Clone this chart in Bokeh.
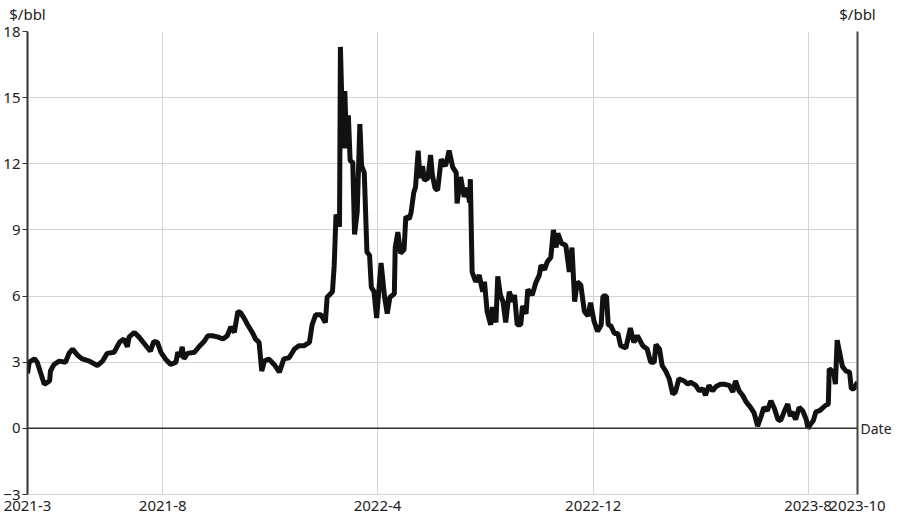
import pandas as pd
from bokeh.plotting import figure
from bokeh.models import (Range1d, FixedTicker, CustomJSTickFormatter, LinearAxis,
                          Span, ColumnDataSource)
from bokeh.embed import file_html
from bokeh.resources import INLINE

# ---- data ----
start_date = "2021-03-01"
end_day_offset = 939
day_offset = [
    0, 2, 8, 11, 15, 19, 25, 26, 30, 36, 43, 47, 51, 57, 62, 70, 79, 85, 90, 98,
    104, 109, 113, 115, 121, 126, 132, 139, 143, 147, 151, 156, 162, 168, 170, 173, 175, 177, 181, 189,
    194, 200, 204, 209, 215, 221, 226, 230, 234, 238, 241, 245, 249, 255, 258, 262, 265, 268, 273, 279,
    285, 290, 296, 302, 307, 313, 319, 322, 326, 332, 337, 339, 345, 347, 349, 353, 354, 357, 359, 361,
    363, 365, 368, 370, 373, 376, 378, 381, 384, 387, 389, 392, 395, 398, 400, 404, 407, 410, 415, 416,
    419, 422, 426, 428, 432, 434, 437, 439, 442, 444, 447, 449, 453, 456, 458, 461, 464, 468, 473, 477,
    481, 485, 486, 490, 494, 498, 500, 501, 503, 507, 511, 515, 517, 520, 524, 526, 530, 532, 535, 538,
    541, 545, 549, 551, 554, 558, 560, 564, 566, 571, 575, 579, 581, 585, 588, 592, 595, 598, 600, 604,
    609, 613, 616, 619, 622, 626, 630, 634, 637, 641, 645, 649, 651, 655, 657, 660, 664, 668, 671, 677,
    682, 686, 690, 696, 701, 705, 709, 711, 715, 718, 722, 726, 730, 733, 737, 743, 747, 750, 756, 760,
    764, 767, 771, 775, 779, 784, 788, 794, 798, 801, 805, 809, 813, 818, 822, 826, 830, 833, 837, 841,
    845, 849, 852, 856, 860, 863, 865, 869, 873, 877, 881, 883, 886, 889, 892, 896, 899, 903, 906, 907,
    912, 914, 916, 919, 922, 926, 930, 932, 935, 939,
]
price = [
    2.5, 3.0, 3.15, 3.0, 2.5, 2.0, 2.15, 2.6, 2.9, 3.05, 3.0, 3.4, 3.6, 3.3, 3.15, 3.05, 2.85, 3.05, 3.4, 3.45,
    3.9, 4.05, 3.7, 4.15, 4.35, 4.15, 3.85, 3.5, 3.95, 3.9, 3.45, 3.15, 2.9, 3.0, 3.45, 3.25, 3.7, 3.15, 3.4, 3.45,
    3.7, 3.95, 4.2, 4.2, 4.15, 4.05, 4.2, 4.6, 4.35, 5.3, 5.25, 5.0, 4.7, 4.3, 4.05, 3.9, 2.6, 3.05, 3.15, 2.9,
    2.55, 3.15, 3.2, 3.6, 3.75, 3.75, 3.9, 4.7, 5.15, 5.15, 4.8, 5.95, 6.2, 7.4, 9.7, 9.15, 17.3, 12.7, 15.3, 12.7,
    14.2, 12.15, 12.05, 8.8, 9.8, 13.8, 11.9, 11.6, 8.0, 7.85, 6.4, 6.2, 5.0, 6.5, 7.5, 5.95, 5.2, 5.95, 6.1, 8.2,
    8.9, 7.95, 8.1, 9.6, 9.5, 9.8, 10.7, 10.95, 12.6, 11.35, 11.9, 11.25, 11.35, 12.4, 11.5, 10.9, 10.8, 12.2, 11.9, 12.6,
    11.85, 11.6, 10.2, 11.4, 10.5, 10.9, 10.25, 11.3, 7.1, 6.65, 6.95, 6.2, 6.65, 5.3, 4.7, 5.5, 4.8, 6.9, 6.05, 5.75,
    4.8, 6.2, 5.75, 6.05, 4.7, 4.7, 5.55, 5.2, 6.3, 6.05, 6.6, 6.95, 7.4, 7.2, 7.55, 7.75, 9.0, 8.2, 8.85, 8.4,
    8.3, 7.1, 8.2, 5.75, 6.65, 6.5, 5.3, 5.1, 5.7, 4.85, 4.4, 4.7, 6.0, 6.0, 4.7, 4.65, 4.3, 4.3, 3.75, 3.65,
    4.55, 3.9, 4.2, 3.75, 3.6, 3.0, 3.0, 3.8, 3.6, 2.85, 2.6, 2.25, 1.55, 1.65, 2.25, 2.15, 2.0, 2.1, 1.95, 1.7,
    1.8, 1.5, 1.95, 1.7, 1.9, 2.0, 2.0, 1.95, 1.65, 2.15, 1.7, 1.5, 1.2, 0.95, 0.7, 0.1, 0.55, 0.95, 0.8, 1.25,
    0.9, 0.4, 0.35, 0.75, 1.1, 0.55, 0.75, 0.4, 0.95, 0.8, 0.4, 0.0, 0.2, 0.35, 0.75, 0.8, 0.9, 1.05, 1.1, 2.7,
    2.55, 2.0, 4.0, 3.4, 2.8, 2.6, 2.55, 1.8, 1.8, 2.1,
]
y_ticks = [-3, 0, 3, 6, 9, 12, 15, 18]
x_tick_dates = ["2021-03-01", "2021-08-01", "2022-04-01", "2022-12-01", "2023-08-01"]
x_tick_labels = ["2021-3", "2021-8", "2022-4", "2022-12", "2023-8", "2023-10"]
y_unit = "$/bbl"
x_name = "Date"

# ---- build ----
t0 = pd.Timestamp(start_date)
dates = [t0 + pd.Timedelta(days=d) for d in day_offset]
t_end = t0 + pd.Timedelta(days=end_day_offset)

def ms(ts):
    return float(ts.value // 10**6)

start_ms = ms(t0)
end_ms = ms(t_end)
tick_ms = [ms(pd.Timestamp(d)) for d in x_tick_dates] + [end_ms]

src = ColumnDataSource(data=dict(x=dates, y=price))

FONT = "Noto Sans"
TXT = "#222222"
FS = "15px"

p = figure(width=894, height=513, x_axis_type="datetime",
           output_backend="svg", toolbar_location=None,
           x_range=Range1d(start_ms, end_ms), y_range=Range1d(-3, 18),
           min_border_left=22, min_border_right=0, min_border_top=0, min_border_bottom=0)
p.outline_line_color = None
p.background_fill_color = "white"

xt = FixedTicker(ticks=tick_ms)
yt = FixedTicker(ticks=y_ticks)

p.xaxis.ticker = xt
p.xgrid.ticker = xt
p.yaxis.ticker = yt
p.ygrid.ticker = yt

p.xaxis.formatter = CustomJSTickFormatter(args=dict(tpos=tick_ms, tlab=x_tick_labels), code="""
let best = 0, bd = Infinity;
for (let i = 0; i < tpos.length; i++) {
  const d = Math.abs(tpos[i] - tick);
  if (d < bd) { bd = d; best = i; }
}
return tlab[best];
""")

for g in (p.xgrid[0], p.ygrid[0]):
    g.grid_line_color = "#d4d4d4"
    g.grid_line_width = 1

xa = p.xaxis[0]
xa.axis_line_color = "#d4d4d4"
xa.major_tick_line_color = None
xa.minor_tick_line_color = None
xa.major_tick_out = 0
xa.major_tick_in = 0
xa.major_label_standoff = 6
xa.major_label_text_font = FONT
xa.major_label_text_font_size = FS
xa.major_label_text_color = TXT

ya = p.yaxis[0]
ya.axis_line_color = "#333333"
ya.axis_line_width = 2
ya.major_tick_line_color = "#333333"
ya.major_tick_out = 5
ya.major_tick_in = 0
ya.minor_tick_line_color = None
ya.major_label_standoff = 2
ya.major_label_text_font = FONT
ya.major_label_text_font_size = FS
ya.major_label_text_color = TXT

# right axis: dark line, single label "Date" at the zero line
ra = LinearAxis(ticker=FixedTicker(ticks=[0]),
                formatter=CustomJSTickFormatter(args=dict(lab=x_name), code="return lab;"))
ra.axis_line_color = "#444444"
ra.axis_line_width = 2
ra.major_tick_line_color = None
ra.minor_tick_line_color = None
ra.major_tick_out = 0
ra.major_tick_in = 0
ra.major_label_standoff = 3
ra.major_label_text_font = FONT
ra.major_label_text_font_size = "14px"
ra.major_label_text_color = TXT
p.add_layout(ra, "right")

# top axis: unit labels centred over the left and right axes
ta = LinearAxis(ticker=FixedTicker(ticks=[start_ms, end_ms]),
                formatter=CustomJSTickFormatter(args=dict(lab=y_unit), code="return lab;"))
ta.axis_line_color = None
ta.major_tick_line_color = None
ta.minor_tick_line_color = None
ta.major_tick_out = 0
ta.major_tick_in = 0
ta.major_label_standoff = 8
ta.major_label_text_font = FONT
ta.major_label_text_font_size = FS
ta.major_label_text_color = TXT
p.add_layout(ta, "above")

p.add_layout(Span(location=0, dimension="width", line_color="#333333", line_width=1.5))

p.line("x", "y", source=src, line_color="#111111", line_width=5, line_join="bevel")

open("out.html", "w").write(file_html(p, INLINE))
